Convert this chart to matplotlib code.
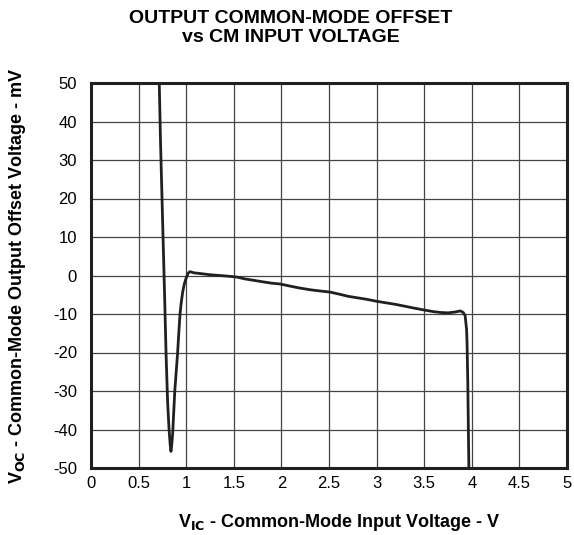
import numpy as np
import matplotlib.pyplot as plt

plt.rcParams['font.family'] = ['Liberation Sans', 'DejaVu Sans']
plt.rcParams['axes.unicode_minus'] = False

# V_IC (V) and V_OC offset (mV)
vic = [0.705, 0.717, 0.73, 0.746, 0.76, 0.775, 0.788, 0.805, 0.82, 0.832, 0.84,
       0.848, 0.858, 0.868, 0.88, 0.895, 0.91, 0.922, 0.935, 0.948, 0.963, 0.98, 0.995,
       1.02, 1.04, 1.08, 1.15, 1.25, 1.35, 1.45, 1.53, 1.62, 1.72, 1.82, 1.9, 1.985,
       2.08, 2.18, 2.3, 2.4, 2.51, 2.6, 2.7, 2.8, 2.9, 3.0, 3.1, 3.2, 3.3, 3.4, 3.53,
       3.6, 3.67, 3.75, 3.82, 3.88, 3.91, 3.93, 3.945, 3.95, 3.958, 3.965, 3.972]
voc = [55, 50, 35, 20, 7, -7, -20, -33, -40, -44, -45.7,
       -44, -41, -36, -30, -25, -20, -15, -10, -7, -4.3, -2.2, -1,
       0.6, 1.0, 0.7, 0.5, 0.2, 0.0, -0.2, -0.4, -0.9, -1.3, -1.7, -2.0, -2.2,
       -2.7, -3.2, -3.7, -4.0, -4.3, -4.8, -5.4, -5.8, -6.2, -6.7, -7.1, -7.5, -8.0, -8.5, -9.1,
       -9.4, -9.6, -9.7, -9.5, -9.2, -9.6, -10.4, -14, -17.4, -28, -42, -55]

fig = plt.figure(figsize=(5.74, 5.35), dpi=100)
ax = fig.add_axes([91/574, 1 - 468/535, 476/574, 385/535])

ax.plot(vic, voc, color='#231f20', linewidth=2.0, solid_joinstyle='round')

ax.set_xlim(0, 5)
ax.set_ylim(-50, 50)
ax.set_xticks(np.arange(0, 5.01, 0.5))
ax.set_xticklabels(['0', '0.5', '1', '1.5', '2', '2.5', '3', '3.5', '4', '4.5', '5'])
ax.set_yticks(np.arange(-50, 51, 10))
ax.grid(True, color='#444444', linewidth=0.9)
ax.tick_params(length=0, labelsize=12)
ax.tick_params(axis='x', pad=6)
ax.tick_params(axis='y', pad=10)
for s in ax.spines.values():
    s.set_linewidth(2.2)
    s.set_color('#231f20')

ax.set_xlabel('V$_{\\mathbf{IC}}$ - Common-Mode Input Voltage - V',
              fontsize=13, fontweight='bold')
ax.xaxis.set_label_coords((339 - 91) / 476, -44 / 385)
ax.set_ylabel('V$_{\\mathbf{OC}}$ - Common-Mode Output Offset Voltage - mV',
              fontsize=13, fontweight='bold')
ax.yaxis.set_label_coords(-63 / 476, 0.5)

fig.text(291/574, 1 - 28/535, 'OUTPUT COMMON-MODE OFFSET\nvs CM INPUT VOLTAGE',
         ha='center', va='center', fontsize=14, fontweight='bold', linespacing=1.1)

fig.savefig('out.png', dpi=100)
